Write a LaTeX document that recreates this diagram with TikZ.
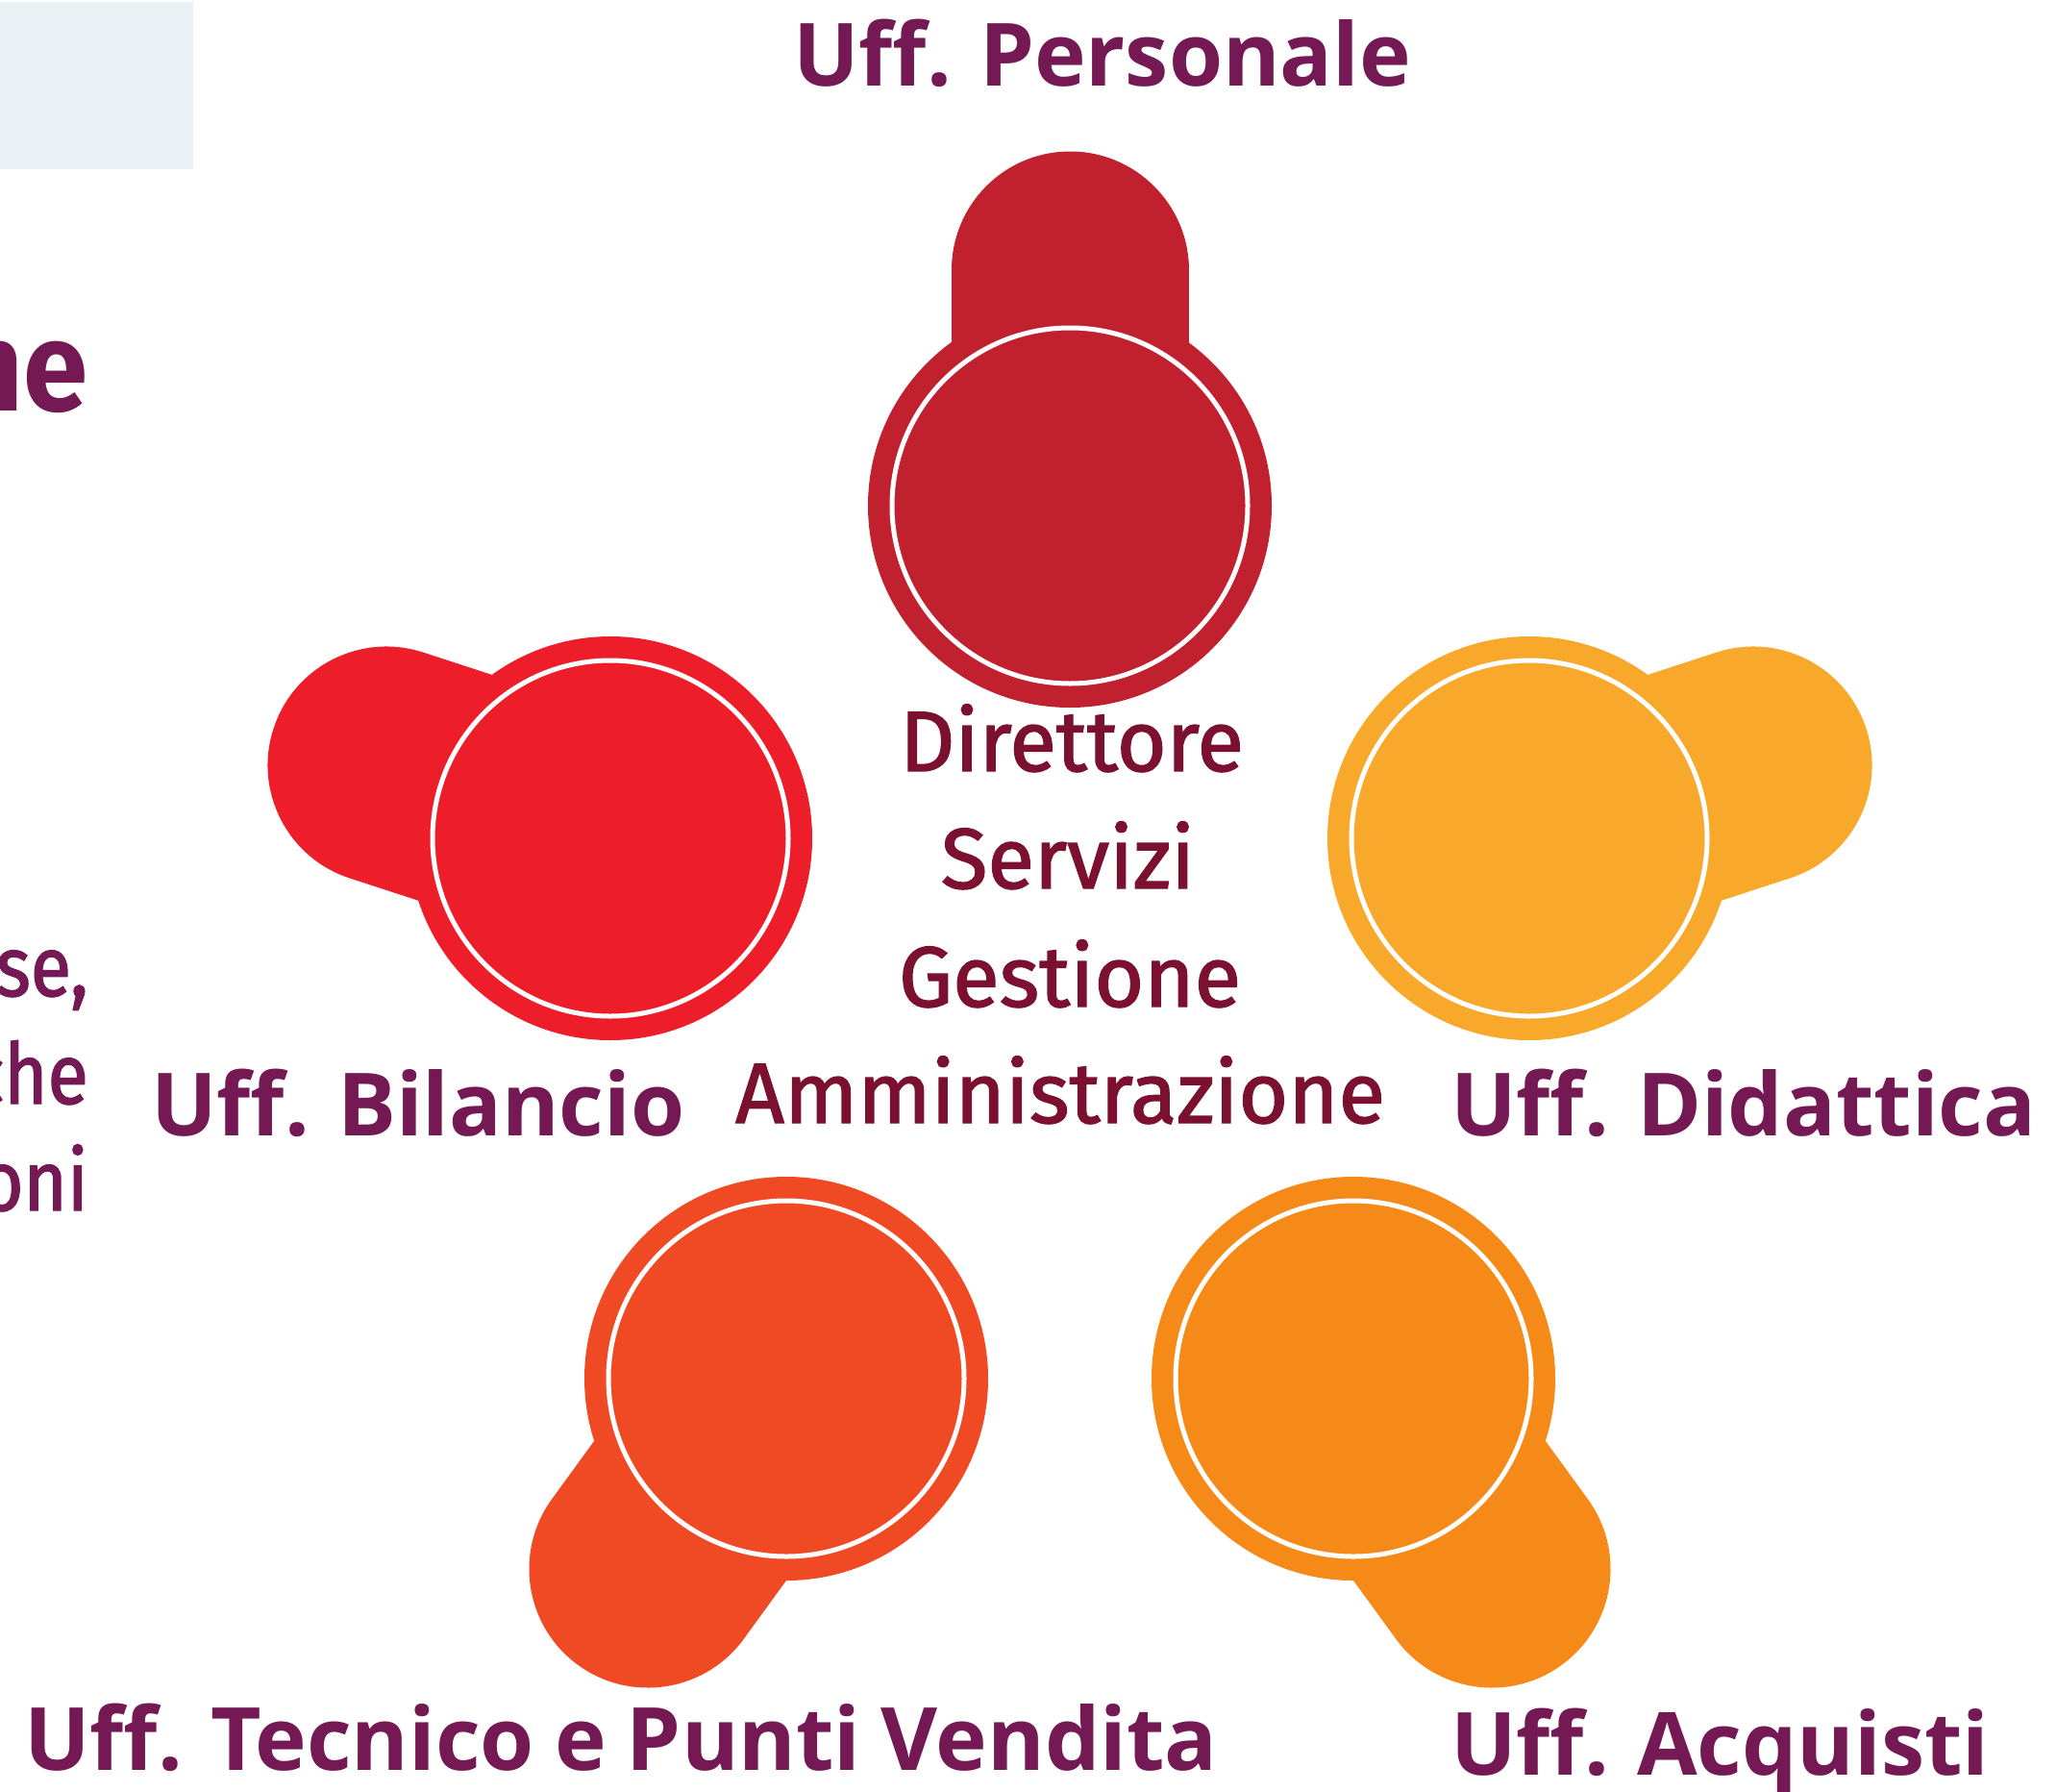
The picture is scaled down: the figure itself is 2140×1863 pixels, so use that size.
\documentclass[tikz,border=0pt]{standalone}
\usepackage{fontspec}
\newfontfamily\opensans{Open Sans}[WordSpace=0.9]
\newfontfamily\din{Fira Sans}[FakeBold=1.6]
\newfontfamily\dinside{Fira Sans}[FakeBold=1.6, FakeStretch=0.88]
\newfontfamily\dintitle{Fira Sans}[FakeStretch=0.92]
\definecolor{labpurple}{RGB}{116,25,84}
\definecolor{ctrred}{RGB}{123,16,48}
\definecolor{cPers}{RGB}{193,32,46}
\definecolor{cBil}{RGB}{237,30,41}
\definecolor{cDid}{RGB}{248,168,43}
\definecolor{cTec}{RGB}{240,74,36}
\definecolor{cAcq}{RGB}{245,138,24}
\definecolor{greybox}{RGB}{234,240,243}
\begin{document}
\begin{tikzpicture}[x=1pt,y=-1pt,
  lab/.style={anchor=base west, inner sep=0pt, text=labpurple, font=\opensans\bfseries\fontsize{90.8}{110}\selectfont},
  ctr/.style={anchor=base, inner sep=0pt, text=ctrred, font=\din\fontsize{89}{108}\selectfont},
  side/.style={anchor=base east, inner sep=0pt, text=labpurple, font=\dinside\fontsize{88}{100}\selectfont},
  ring/.style={draw=white, line width=5pt},
  tab/.style={line width=247pt, line cap=round}]
\useasboundingbox (0,0) rectangle (2140,1863);
\fill[white] (0,0) rectangle (2140,1863);
% grey box top-left
\fill[greybox] (0,2) rectangle (201,176);
% pin centres and tab centres
\coordinate (pers) at (1113,526);  \coordinate (perstab) at (1113,281);
\coordinate (bil)  at (635,872);   \coordinate (biltab)  at (402,796);
\coordinate (did)  at (1591,872);  \coordinate (didtab)  at (1824,796);
\coordinate (tec)  at (818,1434);  \coordinate (tectab)  at (674,1632);
\coordinate (acq)  at (1408,1434); \coordinate (acqtab)  at (1552,1632);
% pins
\foreach \c/\t/\col in {pers/perstab/cPers, bil/biltab/cBil, did/didtab/cDid, tec/tectab/cTec, acq/acqtab/cAcq}{
  \draw[tab, draw=\col] (\c) -- (\t);
  \fill[\col] (\c) circle[radius=210pt];
  \draw[ring] (\c) circle[radius=185pt];
}
% labels
\node[lab] (lpers) at (825,89) {Uff. Personale};
\node[lab] (lbil) at (157,1181) {Uff. Bilancio};
\node[lab] (ldid) at (1509,1181) {Uff. Didattica};
\node[lab] (ltec) at (25,1841) {Uff. Tecnico e Punti Vendita};
\node[lab] (lacq) at (1509,1846) {Uff. Acquisti};
% central text
\node[ctr] (c1) at (1115,802) {Direttore};
\node[ctr] (c2) at (1111,924) {Servizi};
\node[ctr] (c3) at (1113,1047) {Gestione};
\node[ctr] (c4) at (1103,1168) {Amministrazione};
% cut text on the left
\node[anchor=base east, inner sep=0pt, text=labpurple, font=\dintitle\bfseries\fontsize{132}{150}\selectfont] (tne) at (92,427) {ne};
\node[side] (s1) at (92,1036) {se,};
\node[side] (s2) at (92,1148) {che};
\node[side] (s3) at (92,1259) {oni};
\end{tikzpicture}
\end{document}
